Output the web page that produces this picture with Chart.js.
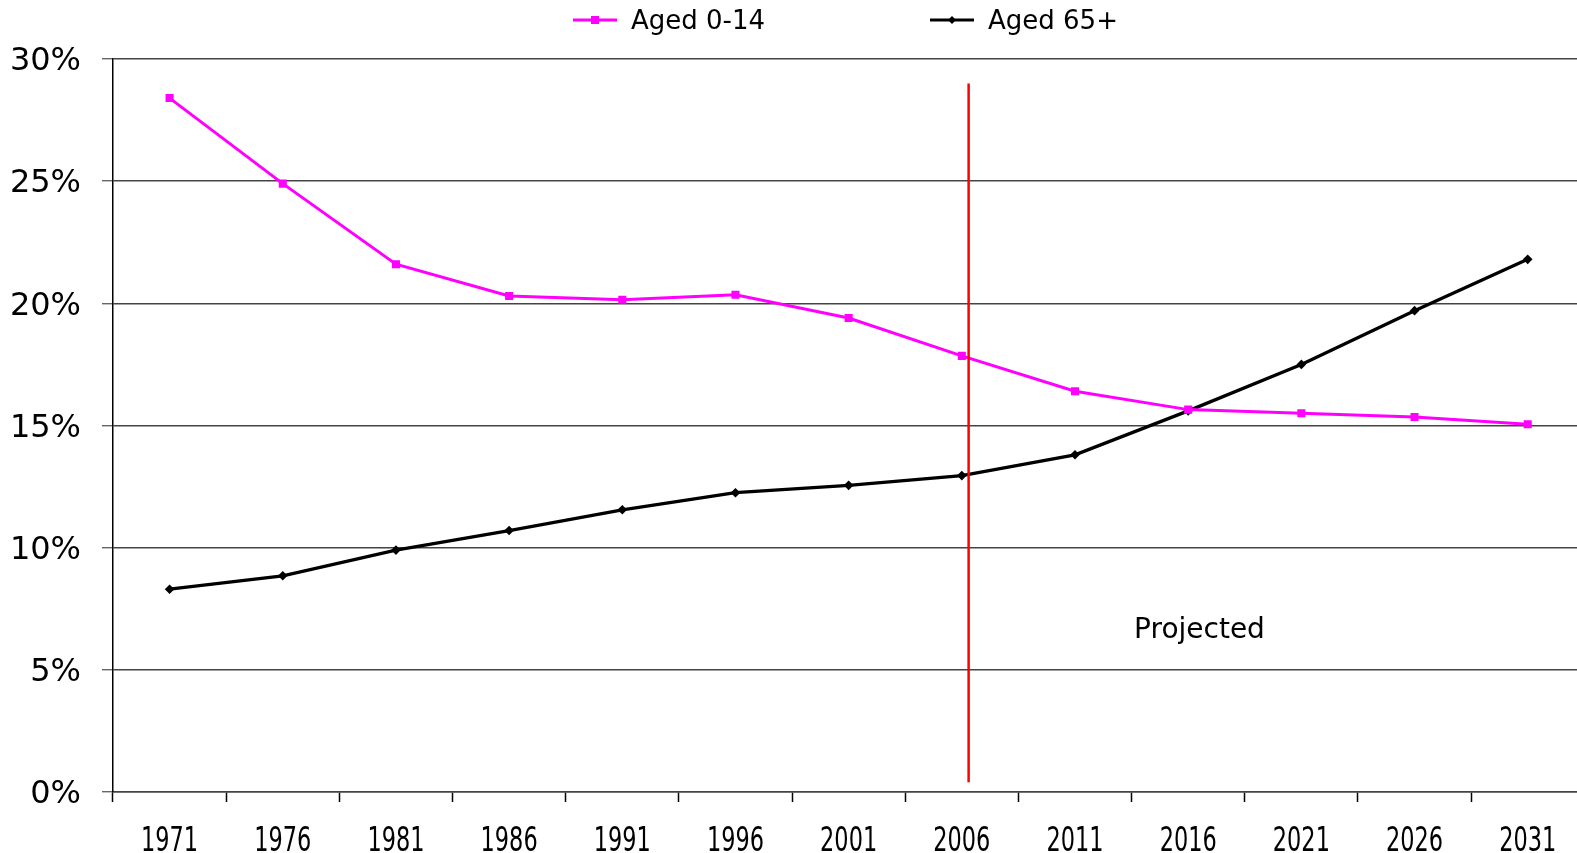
<!DOCTYPE html>
<html>
<head>
<meta charset="utf-8">
<title>Population by age group</title>
<script src="https://cdn.jsdelivr.net/npm/chart.js@4/dist/chart.umd.min.js"></script>
<style>
  html, body {
    margin: 0;
    padding: 0;
    background: #ffffff;
    overflow: hidden;
  }
  #container {
    position: absolute;
    left: 0;
    top: 0;
    width: 1590px;
    height: 853px;
  }
</style>
</head>
<body>
<div id="container">
  <canvas id="chart" width="1590" height="853"></canvas>
</div>
<script>
"use strict";

// data

const years = ["1971", "1976", "1981", "1986", "1991", "1996", "2001", "2006", "2011", "2016", "2021", "2026", "2031"];

const aged0to14 = [28.4, 24.9, 21.6, 20.3, 20.15, 20.35, 19.4, 17.85, 16.4, 15.65, 15.5, 15.35, 15.05];
const aged65plus = [8.3, 8.85, 9.9, 10.7, 11.55, 12.25, 12.55, 12.95, 13.8, 15.6, 17.5, 19.7, 21.8];

const seriesNames = ["Aged 0-14", "Aged 65+"];
const seriesColors = ["#ff00ff", "#000000"];

const yTicks = [0, 5, 10, 15, 20, 25, 30];

// red "projected" divider, in axis units (category index, percent)
const projectionLine = { index: 7.06, from: 0.4, to: 29 };
const projectionText = "Projected";
const projectionTextPos = { index: 9.1, value: 6.6 };

const fontMain = "'DejaVu Sans', sans-serif";

let canvasElem = document.getElementById("chart");

// draws the red line and the "Projected" note from the scales
const projectionPlugin = {
  id: "projection",
  afterDatasetsDraw(chart) {
    const ctx = chart.ctx;
    const xScale = chart.scales.x;
    const yScale = chart.scales.y;

    const x = xScale.getPixelForValue(projectionLine.index);
    ctx.save();
    ctx.strokeStyle = "#ff0000";
    ctx.lineWidth = 2.5;
    ctx.beginPath();
    ctx.moveTo(x, yScale.getPixelForValue(projectionLine.to));
    ctx.lineTo(x, yScale.getPixelForValue(projectionLine.from));
    ctx.stroke();

    ctx.fillStyle = "#000000";
    ctx.font = "28px " + fontMain;
    ctx.textAlign = "center";
    ctx.textBaseline = "middle";
    ctx.fillText(
      projectionText,
      xScale.getPixelForValue(projectionTextPos.index),
      yScale.getPixelForValue(projectionTextPos.value)
    );
    ctx.restore();
  },
};

// year labels are narrow in the original, so squeeze them a bit
const yearLabelPlugin = {
  id: "yearLabels",
  afterDraw(chart) {
    const ctx = chart.ctx;
    const xScale = chart.scales.x;
    ctx.save();
    ctx.fillStyle = "#000000";
    ctx.font = "33px " + fontMain;
    ctx.textAlign = "center";
    ctx.textBaseline = "alphabetic";
    for (let i = 0; i < chart.data.labels.length; i++) {
      const x = xScale.getPixelForValue(i);
      ctx.save();
      ctx.translate(x, 851);
      ctx.scale(0.68, 1);
      ctx.fillText(xScale.getLabelForValue(i), 0, 0);
      ctx.restore();
    }
    ctx.restore();
  },
};

// legend drawn like the original: short line with marker, then label
const legendPlugin = {
  id: "lineLegend",
  afterDraw(chart) {
    const ctx = chart.ctx;
    const starts = [573, 930];
    const y = 20;
    ctx.save();
    for (let i = 0; i < chart.data.datasets.length; i++) {
      const ds = chart.data.datasets[i];
      const x0 = starts[i];
      const x1 = x0 + 44;
      ctx.strokeStyle = ds.borderColor;
      ctx.lineWidth = 3;
      ctx.beginPath();
      ctx.moveTo(x0, y);
      ctx.lineTo(x1, y);
      ctx.stroke();

      ctx.fillStyle = ds.pointBackgroundColor;
      const cx = (x0 + x1) / 2;
      if (ds.pointStyle === "rect") {
        ctx.fillRect(cx - 4, y - 4, 8, 8);
      } else {
        ctx.beginPath();
        ctx.moveTo(cx, y - 4);
        ctx.lineTo(cx + 4, y);
        ctx.lineTo(cx, y + 4);
        ctx.lineTo(cx - 4, y);
        ctx.closePath();
        ctx.fill();
      }

      ctx.fillStyle = "#000000";
      ctx.font = "26px " + fontMain;
      ctx.textAlign = "left";
      ctx.textBaseline = "middle";
      ctx.fillText(ds.label, x1 + 14, y + 2);
    }
    ctx.restore();
  },
};

function renderChart() {
  const data = {
    labels: years,
    datasets: [
      {
        label: seriesNames[0],
        data: aged0to14,
        borderColor: seriesColors[0],
        backgroundColor: seriesColors[0],
        pointBackgroundColor: seriesColors[0],
        pointBorderColor: seriesColors[0],
        borderWidth: 3,
        pointStyle: "rect",
        pointRadius: 5.7,
        pointBorderWidth: 0,
        tension: 0,
      },
      {
        label: seriesNames[1],
        data: aged65plus,
        borderColor: seriesColors[1],
        backgroundColor: seriesColors[1],
        pointBackgroundColor: seriesColors[1],
        pointBorderColor: seriesColors[1],
        borderWidth: 3.3,
        pointStyle: "rectRot",
        pointRadius: 4.8,
        pointBorderWidth: 0,
        tension: 0,
      },
    ],
  };

  const config = {
    type: "line",
    data: data,
    options: {
      responsive: false,
      animation: false,
      devicePixelRatio: 1,
      layout: {
        padding: { top: 59, right: 5, bottom: 0, left: 0 },
      },
      plugins: {
        legend: { display: false },
        tooltip: { enabled: false },
      },
      scales: {
        x: {
          type: "category",
          offset: true,
          grid: {
            offset: true,
            drawOnChartArea: false,
            drawTicks: true,
            tickLength: 10,
            tickWidth: 1.5,
            tickColor: "#000000",
          },
          border: { display: true, color: "#444444", width: 1.5 },
          ticks: {
            display: false,
          },
          afterFit(scale) {
            scale.height = 61;
          },
        },
        y: {
          min: 0,
          max: 30,
          afterBuildTicks(scale) {
            scale.ticks = yTicks.map((v) => ({ value: v }));
          },
          grid: {
            color: "#444444",
            lineWidth: 1.4,
            drawTicks: true,
            tickLength: 11,
            tickColor: "#666666",
          },
          border: { display: true, color: "#000000", width: 1.5 },
          ticks: {
            color: "#000000",
            font: { family: fontMain, size: 32 },
            padding: 21,
            labelOffset: 3,
            callback: (v) => v + "%",
          },
          afterFit(scale) {
            scale.width = 113;
          },
        },
      },
    },
    plugins: [projectionPlugin, yearLabelPlugin, legendPlugin],
  };

  const newChart = new Chart(canvasElem, config);
}

renderChart();
</script>
</body>
</html>
